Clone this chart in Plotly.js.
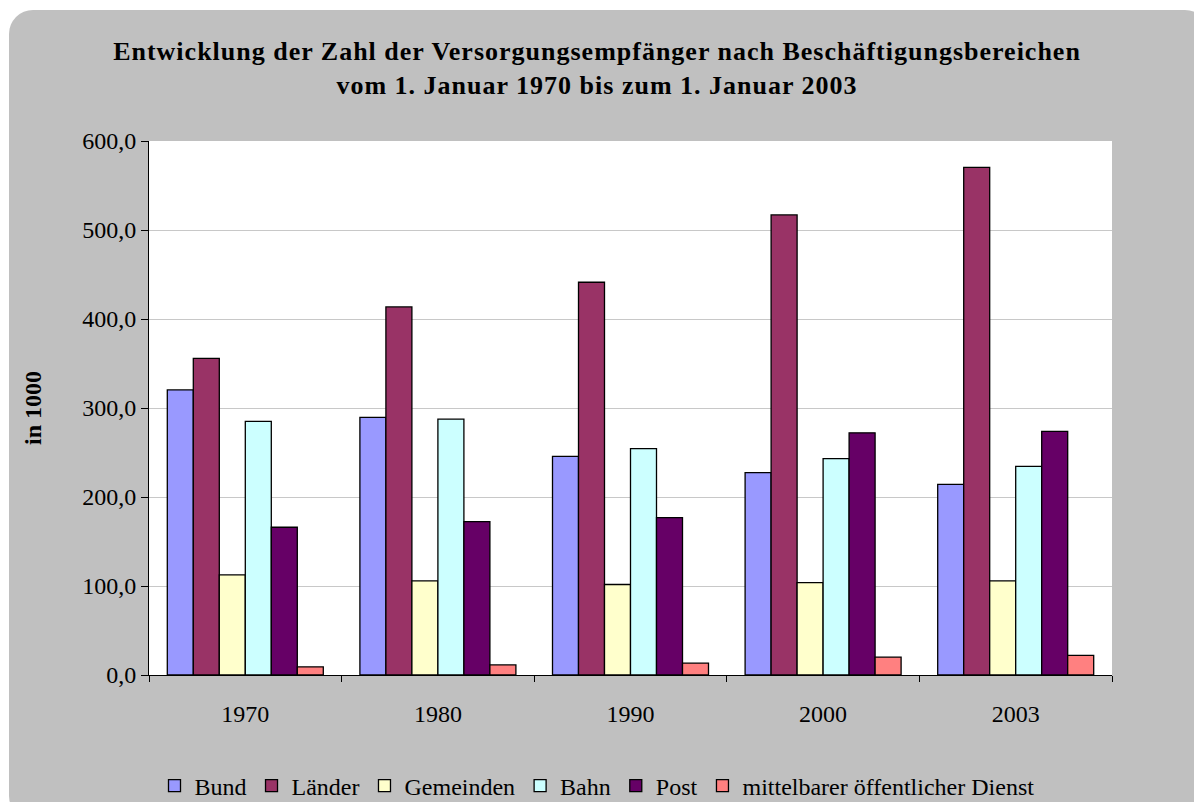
<!DOCTYPE html>
<html>
<head>
<meta charset="utf-8">
<script src="https://cdn.plot.ly/plotly-3.0.1.min.js"></script>
<style>
  html, body { margin: 0; padding: 0; background: #ffffff; width: 1194px; height: 802px; overflow: hidden; }
  #bg { position: absolute; left: 9px; top: 10px; width: 1200px; height: 810px; background: #c0c0c0; border-radius: 24px; }
  #chart { position: absolute; left: 0; top: 0; width: 1194px; height: 802px; }
  .gtitle { letter-spacing: 1px; }
</style>
</head>
<body>
<div id="bg"></div>
<div id="chart"></div>
<script>
const years = ["1970", "1980", "1990", "2000", "2003"];
const seriesNames = ["Bund", "Länder", "Gemeinden", "Bahn", "Post", "mittelbarer öffentlicher Dienst"];
const bund = [320.3, 289.4, 245.6, 227.5, 214.2];
const laender = [355.7, 413.6, 441.3, 516.9, 570.3];
const gemeinden = [112.5, 105.7, 101.7, 103.7, 105.7];
const bahn = [285.0, 287.4, 254.4, 243.2, 234.3];
const post = [166.0, 172.4, 176.8, 272.1, 273.7];
const mittelbar = [9.2, 11.3, 13.3, 20.1, 22.1];
const seriesValues = [bund, laender, gemeinden, bahn, post, mittelbar];
const colors = ["#9999ff", "#993366", "#ffffcc", "#ccffff", "#660066", "#ff8080"];

const traces = seriesNames.map((n, i) => ({
  type: "bar",
  name: n,
  x: years,
  y: seriesValues[i],
  marker: { color: colors[i], line: { color: "#000000", width: 1.3 } },
  hoverinfo: "x+y+name"
}));

const serif = "Liberation Serif, Times New Roman, serif";

const layout = {
  width: 1194,
  height: 802,
  paper_bgcolor: "rgba(0,0,0,0)",
  plot_bgcolor: "#ffffff",
  separators: ",.",
  barmode: "group",
  bargap: 0.19,
  bargroupgap: 0,
  margin: { l: 149, r: 82, t: 141, b: 127, pad: 0 },
  font: { family: serif, color: "#000000", size: 20 },
  title: {
    text: "<b>Entwicklung der Zahl der Versorgungsempfänger nach Beschäftigungsbereichen<br>vom 1. Januar 1970 bis zum 1. Januar 2003</b>",
    font: { family: serif, size: 26, color: "#000000" },
    x: 0.5, xanchor: "center", xref: "container",
    y: 0.925, yanchor: "middle", yref: "container"
  },
  xaxis: {
    type: "category",
    showline: true, linecolor: "#000000", linewidth: 1,
    ticks: "outside", tickson: "boundaries", ticklen: 6, tickcolor: "#000000",
    tickfont: { family: serif, size: 24, color: "#000000" },
    ticklabelstandoff: 17,
    showgrid: false, zeroline: false, fixedrange: true
  },
  yaxis: {
    range: [0, 600],
    tickvals: [0, 100, 200, 300, 400, 500, 600],
    tickformat: ".1f",
    showline: true, linecolor: "#000000", linewidth: 1,
    ticks: "outside", ticklen: 7, tickcolor: "#000000",
    tickfont: { family: serif, size: 24, color: "#000000" },
    showgrid: true, gridcolor: "#c8c8c8", gridwidth: 1,
    zeroline: false,
    title: { text: "<b>in 1000</b>", font: { family: serif, size: 24, color: "#000000" }, standoff: 33 },
    fixedrange: true
  },
  legend: {
    orientation: "h",
    x: 0.5, xanchor: "center", xref: "container",
    y: 0.02, yanchor: "middle", yref: "container",
    font: { family: serif, size: 24, color: "#000000" },
    bgcolor: "rgba(0,0,0,0)",
    itemwidth: 30,
    traceorder: "normal"
  },
  showlegend: true
};

Plotly.newPlot("chart", traces, layout, { displayModeBar: false });
</script>
</body>
</html>
